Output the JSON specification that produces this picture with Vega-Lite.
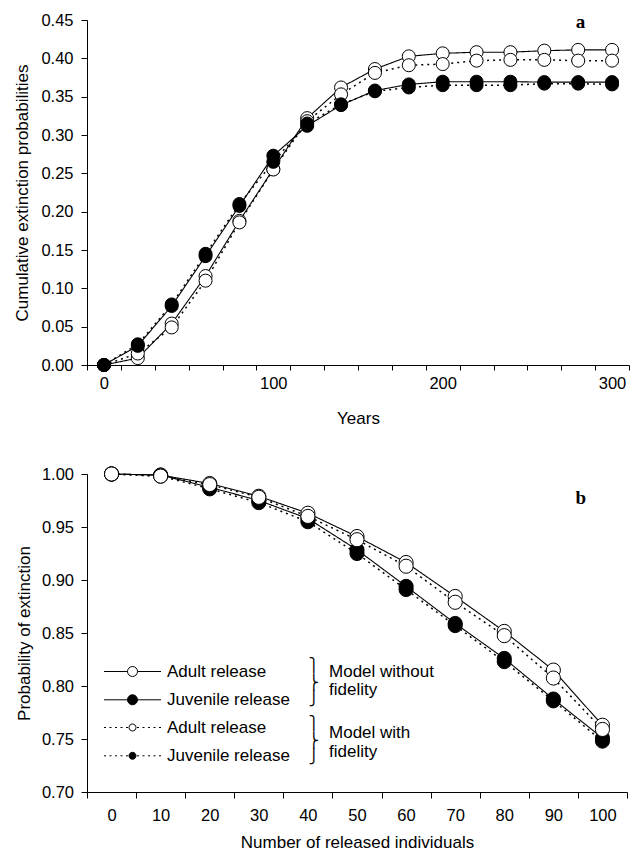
{
  "$schema": "https://vega.github.io/schema/vega-lite/v6.json",
  "padding": {"left": 13, "top": 12, "right": 0, "bottom": 0},
  "background": "white",
  "spacing": 37,
  "config": {
    "view": {"stroke": null},
    "font": "Liberation Sans",
    "axis": {
      "grid": false,
      "domainColor": "black",
      "tickColor": "black",
      "labelColor": "black",
      "titleColor": "black",
      "labelFont": "Liberation Sans",
      "titleFont": "Liberation Sans",
      "titleFontWeight": "normal",
      "labelFontSize": 16.5,
      "titleFontSize": 17,
      "domainWidth": 1,
      "tickWidth": 1,
      "labelOverlap": false,
      "labelFlush": false,
      "labelBound": false
    }
  },
  "datasets": {
    "a": [
      {"year": 0, "p": 0, "release": "Adult release", "model": "without"},
      {"year": 20, "p": 0.009, "release": "Adult release", "model": "without"},
      {"year": 40, "p": 0.054, "release": "Adult release", "model": "without"},
      {"year": 60, "p": 0.116, "release": "Adult release", "model": "without"},
      {"year": 80, "p": 0.188, "release": "Adult release", "model": "without"},
      {"year": 100, "p": 0.2555, "release": "Adult release", "model": "without"},
      {"year": 120, "p": 0.322, "release": "Adult release", "model": "without"},
      {"year": 140, "p": 0.362, "release": "Adult release", "model": "without"},
      {"year": 160, "p": 0.386, "release": "Adult release", "model": "without"},
      {"year": 180, "p": 0.4026, "release": "Adult release", "model": "without"},
      {"year": 200, "p": 0.4065, "release": "Adult release", "model": "without"},
      {"year": 220, "p": 0.408, "release": "Adult release", "model": "without"},
      {"year": 240, "p": 0.408, "release": "Adult release", "model": "without"},
      {"year": 260, "p": 0.41, "release": "Adult release", "model": "without"},
      {"year": 280, "p": 0.411, "release": "Adult release", "model": "without"},
      {"year": 300, "p": 0.411, "release": "Adult release", "model": "without"},
      {"year": 0, "p": 0, "release": "Adult release", "model": "with"},
      {"year": 20, "p": 0.015, "release": "Adult release", "model": "with"},
      {"year": 40, "p": 0.049, "release": "Adult release", "model": "with"},
      {"year": 60, "p": 0.11, "release": "Adult release", "model": "with"},
      {"year": 80, "p": 0.186, "release": "Adult release", "model": "with"},
      {"year": 100, "p": 0.255, "release": "Adult release", "model": "with"},
      {"year": 120, "p": 0.318, "release": "Adult release", "model": "with"},
      {"year": 140, "p": 0.353, "release": "Adult release", "model": "with"},
      {"year": 160, "p": 0.381, "release": "Adult release", "model": "with"},
      {"year": 180, "p": 0.391, "release": "Adult release", "model": "with"},
      {"year": 200, "p": 0.3925, "release": "Adult release", "model": "with"},
      {"year": 220, "p": 0.397, "release": "Adult release", "model": "with"},
      {"year": 240, "p": 0.398, "release": "Adult release", "model": "with"},
      {"year": 260, "p": 0.398, "release": "Adult release", "model": "with"},
      {"year": 280, "p": 0.397, "release": "Adult release", "model": "with"},
      {"year": 300, "p": 0.397, "release": "Adult release", "model": "with"},
      {"year": 0, "p": 0, "release": "Juvenile release", "model": "without"},
      {"year": 20, "p": 0.025, "release": "Juvenile release", "model": "without"},
      {"year": 40, "p": 0.077, "release": "Juvenile release", "model": "without"},
      {"year": 60, "p": 0.142, "release": "Juvenile release", "model": "without"},
      {"year": 80, "p": 0.2075, "release": "Juvenile release", "model": "without"},
      {"year": 100, "p": 0.273, "release": "Juvenile release", "model": "without"},
      {"year": 120, "p": 0.312, "release": "Juvenile release", "model": "without"},
      {"year": 140, "p": 0.339, "release": "Juvenile release", "model": "without"},
      {"year": 160, "p": 0.358, "release": "Juvenile release", "model": "without"},
      {"year": 180, "p": 0.366, "release": "Juvenile release", "model": "without"},
      {"year": 200, "p": 0.3695, "release": "Juvenile release", "model": "without"},
      {"year": 220, "p": 0.3695, "release": "Juvenile release", "model": "without"},
      {"year": 240, "p": 0.3695, "release": "Juvenile release", "model": "without"},
      {"year": 260, "p": 0.369, "release": "Juvenile release", "model": "without"},
      {"year": 280, "p": 0.369, "release": "Juvenile release", "model": "without"},
      {"year": 300, "p": 0.369, "release": "Juvenile release", "model": "without"},
      {"year": 0, "p": 0, "release": "Juvenile release", "model": "with"},
      {"year": 20, "p": 0.027, "release": "Juvenile release", "model": "with"},
      {"year": 40, "p": 0.079, "release": "Juvenile release", "model": "with"},
      {"year": 60, "p": 0.145, "release": "Juvenile release", "model": "with"},
      {"year": 80, "p": 0.21, "release": "Juvenile release", "model": "with"},
      {"year": 100, "p": 0.265, "release": "Juvenile release", "model": "with"},
      {"year": 120, "p": 0.315, "release": "Juvenile release", "model": "with"},
      {"year": 140, "p": 0.34, "release": "Juvenile release", "model": "with"},
      {"year": 160, "p": 0.357, "release": "Juvenile release", "model": "with"},
      {"year": 180, "p": 0.362, "release": "Juvenile release", "model": "with"},
      {"year": 200, "p": 0.365, "release": "Juvenile release", "model": "with"},
      {"year": 220, "p": 0.365, "release": "Juvenile release", "model": "with"},
      {"year": 240, "p": 0.365, "release": "Juvenile release", "model": "with"},
      {"year": 260, "p": 0.367, "release": "Juvenile release", "model": "with"},
      {"year": 280, "p": 0.367, "release": "Juvenile release", "model": "with"},
      {"year": 300, "p": 0.366, "release": "Juvenile release", "model": "with"}
    ],
    "b": [
      {"n": 0, "p": 1.0, "release": "Juvenile release", "model": "with"},
      {"n": 10, "p": 0.998, "release": "Juvenile release", "model": "with"},
      {"n": 20, "p": 0.986, "release": "Juvenile release", "model": "with"},
      {"n": 30, "p": 0.973, "release": "Juvenile release", "model": "with"},
      {"n": 40, "p": 0.955, "release": "Juvenile release", "model": "with"},
      {"n": 50, "p": 0.925, "release": "Juvenile release", "model": "with"},
      {"n": 60, "p": 0.891, "release": "Juvenile release", "model": "with"},
      {"n": 70, "p": 0.857, "release": "Juvenile release", "model": "with"},
      {"n": 80, "p": 0.823, "release": "Juvenile release", "model": "with"},
      {"n": 90, "p": 0.786, "release": "Juvenile release", "model": "with"},
      {"n": 100, "p": 0.748, "release": "Juvenile release", "model": "with"},
      {"n": 0, "p": 1.0, "release": "Juvenile release", "model": "without"},
      {"n": 10, "p": 0.999, "release": "Juvenile release", "model": "without"},
      {"n": 20, "p": 0.9875, "release": "Juvenile release", "model": "without"},
      {"n": 30, "p": 0.975, "release": "Juvenile release", "model": "without"},
      {"n": 40, "p": 0.958, "release": "Juvenile release", "model": "without"},
      {"n": 50, "p": 0.9285, "release": "Juvenile release", "model": "without"},
      {"n": 60, "p": 0.894, "release": "Juvenile release", "model": "without"},
      {"n": 70, "p": 0.859, "release": "Juvenile release", "model": "without"},
      {"n": 80, "p": 0.826, "release": "Juvenile release", "model": "without"},
      {"n": 90, "p": 0.7877, "release": "Juvenile release", "model": "without"},
      {"n": 100, "p": 0.751, "release": "Juvenile release", "model": "without"},
      {"n": 0, "p": 1.0, "release": "Adult release", "model": "with"},
      {"n": 10, "p": 0.998, "release": "Adult release", "model": "with"},
      {"n": 20, "p": 0.99, "release": "Adult release", "model": "with"},
      {"n": 30, "p": 0.978, "release": "Adult release", "model": "with"},
      {"n": 40, "p": 0.96, "release": "Adult release", "model": "with"},
      {"n": 50, "p": 0.938, "release": "Adult release", "model": "with"},
      {"n": 60, "p": 0.913, "release": "Adult release", "model": "with"},
      {"n": 70, "p": 0.879, "release": "Adult release", "model": "with"},
      {"n": 80, "p": 0.8475, "release": "Adult release", "model": "with"},
      {"n": 90, "p": 0.8075, "release": "Adult release", "model": "with"},
      {"n": 100, "p": 0.759, "release": "Adult release", "model": "with"},
      {"n": 0, "p": 1.0, "release": "Adult release", "model": "without"},
      {"n": 10, "p": 0.999, "release": "Adult release", "model": "without"},
      {"n": 20, "p": 0.991, "release": "Adult release", "model": "without"},
      {"n": 30, "p": 0.979, "release": "Adult release", "model": "without"},
      {"n": 40, "p": 0.963, "release": "Adult release", "model": "without"},
      {"n": 50, "p": 0.941, "release": "Adult release", "model": "without"},
      {"n": 60, "p": 0.9165, "release": "Adult release", "model": "without"},
      {"n": 70, "p": 0.8845, "release": "Adult release", "model": "without"},
      {"n": 80, "p": 0.8515, "release": "Adult release", "model": "without"},
      {"n": 90, "p": 0.815, "release": "Adult release", "model": "without"},
      {"n": 100, "p": 0.763, "release": "Adult release", "model": "without"}
    ]
  },
  "vconcat": [
    {
      "width": 542,
      "height": 345,
      "layer": [
        {
          "data": {"name": "a"},
          "mark": {"type": "line", "color": "black"},
          "encoding": {
            "x": {
              "field": "year", "type": "quantitative",
              "scale": {"domain": [-10, 310], "nice": false, "zero": false},
              "axis": {
                "title": "Years",
                "values": [-10, 10, 30, 50, 70, 90, 110, 130, 150, 170, 190, 210, 230, 250, 270, 290, 310],
                "labelExpr": "datum.value == -10 || datum.value == 90 || datum.value == 190 || datum.value == 290 ? format(datum.value + 10, 'd') : ''",
                "labelOffset": 16.9,
                "labelOverlap": false,
                "tickSize": 5,
                "labelPadding": 5,
                "titlePadding": 19
              }
            },
            "y": {
              "field": "p", "type": "quantitative",
              "scale": {"domain": [0, 0.45], "nice": false, "zero": false},
              "axis": {
                "title": "Cumulative extinction probabilities",
                "values": [0, 0.05, 0.1, 0.15, 0.2, 0.25, 0.3, 0.35, 0.4, 0.45],
                "format": ".2f",
                "tickSize": 6,
                "labelPadding": 8,
                "titlePadding": 9,
                "labelOverlap": false
              }
            },
            "detail": {"field": "release", "type": "nominal"},
            "strokeDash": {
              "field": "model", "type": "nominal",
              "scale": {"domain": ["without", "with"], "range": [[1, 0], [2, 4]]},
              "legend": null
            },
            "strokeWidth": {
              "field": "model", "type": "nominal",
              "scale": {"domain": ["without", "with"], "range": [1.1, 1.5]},
              "legend": null
            }
          }
        },
        {
          "data": {"name": "a"},
          "mark": {"type": "point", "shape": "circle", "filled": true, "size": 170, "stroke": "black", "strokeWidth": 1, "opacity": 1},
          "encoding": {
            "x": {
              "field": "year", "type": "quantitative",
              "scale": {"domain": [-10, 310], "nice": false, "zero": false},
              "axis": {
                "title": "Years",
                "values": [-10, 10, 30, 50, 70, 90, 110, 130, 150, 170, 190, 210, 230, 250, 270, 290, 310],
                "labelExpr": "datum.value == -10 || datum.value == 90 || datum.value == 190 || datum.value == 290 ? format(datum.value + 10, 'd') : ''",
                "labelOffset": 16.9,
                "labelOverlap": false,
                "tickSize": 5,
                "labelPadding": 5,
                "titlePadding": 19
              }
            },
            "y": {
              "field": "p", "type": "quantitative",
              "scale": {"domain": [0, 0.45], "nice": false, "zero": false},
              "axis": {
                "title": "Cumulative extinction probabilities",
                "values": [0, 0.05, 0.1, 0.15, 0.2, 0.25, 0.3, 0.35, 0.4, 0.45],
                "format": ".2f",
                "tickSize": 6,
                "labelPadding": 8,
                "titlePadding": 9,
                "labelOverlap": false
              }
            },
            "fill": {
              "field": "release", "type": "nominal",
              "scale": {"domain": ["Adult release", "Juvenile release"], "range": ["white", "black"]},
              "legend": null
            }
          }
        },
        {
          "data": {"values": [{"label": "a"}]},
          "mark": {"type": "text", "font": "Liberation Serif", "fontWeight": "bold", "fontSize": 19, "align": "center", "baseline": "middle", "color": "black"},
          "encoding": {
            "x": {
              "datum": 281.4, "type": "quantitative",
              "scale": {"domain": [-10, 310], "nice": false, "zero": false},
              "axis": {
                "title": "Years",
                "values": [-10, 10, 30, 50, 70, 90, 110, 130, 150, 170, 190, 210, 230, 250, 270, 290, 310],
                "labelExpr": "datum.value == -10 || datum.value == 90 || datum.value == 190 || datum.value == 290 ? format(datum.value + 10, 'd') : ''",
                "labelOffset": 16.9,
                "labelOverlap": false,
                "tickSize": 5,
                "labelPadding": 5,
                "titlePadding": 19
              }
            },
            "y": {
              "datum": 0.4478, "type": "quantitative",
              "scale": {"domain": [0, 0.45], "nice": false, "zero": false},
              "axis": {
                "title": "Cumulative extinction probabilities",
                "values": [0, 0.05, 0.1, 0.15, 0.2, 0.25, 0.3, 0.35, 0.4, 0.45],
                "format": ".2f",
                "tickSize": 6,
                "labelPadding": 8,
                "titlePadding": 9,
                "labelOverlap": false
              }
            },
            "text": {"field": "label"}
          }
        }
      ]
    },
    {
      "width": 540,
      "height": 318,
      "layer": [
        {
          "data": {"name": "b"},
          "mark": {"type": "line", "color": "black"},
          "encoding": {
            "x": {
              "field": "n", "type": "quantitative",
              "scale": {"domain": [-5, 105], "nice": false, "zero": false},
              "axis": {
                "title": "Number of released individuals",
                "values": [-5, 5, 15, 25, 35, 45, 55, 65, 75, 85, 95, 105],
                "labelExpr": "datum.value < 100 ? format(datum.value + 5, 'd') : ''",
                "labelOffset": 24.5,
                "labelOverlap": false,
                "tickSize": 6,
                "labelPadding": 9,
                "titlePadding": 10.5
              }
            },
            "y": {
              "field": "p", "type": "quantitative",
              "scale": {"domain": [0.7, 1.0], "nice": false, "zero": false},
              "axis": {
                "title": "Probability of extinction",
                "values": [0.7, 0.75, 0.8, 0.85, 0.9, 0.95, 1.0],
                "format": ".2f",
                "tickSize": 6,
                "labelPadding": 7.5,
                "titlePadding": 7.5,
                "labelOverlap": false
              }
            },
            "detail": {"field": "release", "type": "nominal"},
            "strokeDash": {
              "field": "model", "type": "nominal",
              "scale": {"domain": ["without", "with"], "range": [[1, 0], [2, 4]]},
              "legend": null
            },
            "strokeWidth": {
              "field": "model", "type": "nominal",
              "scale": {"domain": ["without", "with"], "range": [1.1, 1.5]},
              "legend": null
            }
          }
        },
        {
          "data": {"name": "b"},
          "transform": [{"filter": "datum.model == 'without'"}],
          "mark": {"type": "point", "shape": "circle", "filled": true, "size": 200, "stroke": "black", "strokeWidth": 1, "opacity": 1},
          "encoding": {
            "x": {"field": "n", "type": "quantitative", "scale": {"domain": [-5, 105], "nice": false, "zero": false}},
            "y": {"field": "p", "type": "quantitative", "scale": {"domain": [0.7, 1.0], "nice": false, "zero": false}},
            "fill": {
              "field": "release", "type": "nominal",
              "scale": {"domain": ["Adult release", "Juvenile release"], "range": ["white", "black"]},
              "legend": {
                "orient": "none",
                "legendX": 35,
                "legendY": 187,
                "title": null,
                "padding": 0,
                "symbolType": "M-2.85,0L-0.5,0M0.5,0L2.85,0M-0.5,0A0.5,0.5,0,1,0,0.5,0A0.5,0.5,0,1,0,-0.5,0Z",
                "symbolSize": 400,
                "symbolStrokeColor": "black",
                "symbolStrokeWidth": 1,
                "symbolOpacity": 1,
                "labelFont": "Liberation Sans",
                "labelFontSize": 17,
                "labelColor": "black",
                "labelOffset": 24,
                "rowPadding": 9.3
              }
            }
          }
        },
        {
          "data": {"name": "b"},
          "transform": [{"filter": "datum.model == 'with'"}],
          "mark": {"type": "point", "shape": "circle", "filled": true, "size": 200, "stroke": "black", "strokeWidth": 1, "opacity": 1},
          "encoding": {
            "x": {"field": "n", "type": "quantitative", "scale": {"domain": [-5, 105], "nice": false, "zero": false}},
            "y": {"field": "p", "type": "quantitative", "scale": {"domain": [0.7, 1.0], "nice": false, "zero": false}},
            "fill": {
              "field": "release", "type": "nominal",
              "scale": {"domain": ["Adult release", "Juvenile release"], "range": ["white", "black"]},
              "legend": {
                "orient": "none",
                "legendX": 35,
                "legendY": 243,
                "title": null,
                "padding": 0,
                "symbolType": "M-2.85,0L-2.65,0M-2.3,0L-2.1,0M-1.75,0L-1.55,0M-1.2,0L-1,0M-0.65,0L-0.45,0M0.45,0L0.65,0M1,0L1.2,0M1.55,0L1.75,0M2.1,0L2.3,0M2.65,0L2.85,0M-0.35,0A0.35,0.35,0,1,0,0.35,0A0.35,0.35,0,1,0,-0.35,0Z",
                "symbolSize": 400,
                "symbolStrokeColor": "black",
                "symbolStrokeWidth": 1,
                "symbolOpacity": 1,
                "labelFont": "Liberation Sans",
                "labelFontSize": 17,
                "labelColor": "black",
                "labelOffset": 24,
                "rowPadding": 9.3
              }
            }
          }
        },
        {
          "data": {"values": [{"label": "b"}]},
          "mark": {"type": "text", "font": "Liberation Serif", "fontWeight": "bold", "fontSize": 19, "align": "center", "baseline": "middle", "color": "black"},
          "encoding": {
            "x": {"datum": 95.6, "type": "quantitative", "scale": {"domain": [-5, 105], "nice": false, "zero": false}},
            "y": {"datum": 0.977, "type": "quantitative", "scale": {"domain": [0.7, 1.0], "nice": false, "zero": false}},
            "text": {"field": "label"}
          }
        },
        {
          "data": {"values": [{"group": "without"}]},
          "mark": {"type": "text", "font": "DejaVu Sans", "fontSize": 14, "lineHeight": 16.3, "align": "center", "baseline": "middle", "color": "black"},
          "encoding": {
            "x": {"datum": 41.2, "type": "quantitative", "scale": {"domain": [-5, 105], "nice": false, "zero": false}},
            "y": {"datum": 0.8186, "type": "quantitative", "scale": {"domain": [0.7, 1.0], "nice": false, "zero": false}},
            "text": {"value": ["⎫", "⎬", "⎭"]}
          }
        },
        {
          "data": {"values": [{"group": "with"}]},
          "mark": {"type": "text", "font": "DejaVu Sans", "fontSize": 14, "lineHeight": 16.3, "align": "center", "baseline": "middle", "color": "black"},
          "encoding": {
            "x": {"datum": 41.2, "type": "quantitative", "scale": {"domain": [-5, 105], "nice": false, "zero": false}},
            "y": {"datum": 0.7639, "type": "quantitative", "scale": {"domain": [0.7, 1.0], "nice": false, "zero": false}},
            "text": {"value": ["⎫", "⎬", "⎭"]}
          }
        },
        {
          "data": {"values": [{"label": ["Model without", "fidelity"]}]},
          "mark": {"type": "text", "font": "Liberation Sans", "fontSize": 17, "lineHeight": 18.5, "align": "left", "baseline": "middle", "color": "black"},
          "encoding": {
            "x": {"datum": 44.3, "type": "quantitative", "scale": {"domain": [-5, 105], "nice": false, "zero": false}},
            "y": {"datum": 0.8136, "type": "quantitative", "scale": {"domain": [0.7, 1.0], "nice": false, "zero": false}},
            "text": {"field": "label"}
          }
        },
        {
          "data": {"values": [{"label": ["Model with", "fidelity"]}]},
          "mark": {"type": "text", "font": "Liberation Sans", "fontSize": 17, "lineHeight": 18.5, "align": "left", "baseline": "middle", "color": "black"},
          "encoding": {
            "x": {"datum": 44.3, "type": "quantitative", "scale": {"domain": [-5, 105], "nice": false, "zero": false}},
            "y": {"datum": 0.7554, "type": "quantitative", "scale": {"domain": [0.7, 1.0], "nice": false, "zero": false}},
            "text": {"field": "label"}
          }
        }
      ],
      "resolve": {"scale": {"fill": "independent"}, "legend": {"fill": "independent"}}
    }
  ]
}
